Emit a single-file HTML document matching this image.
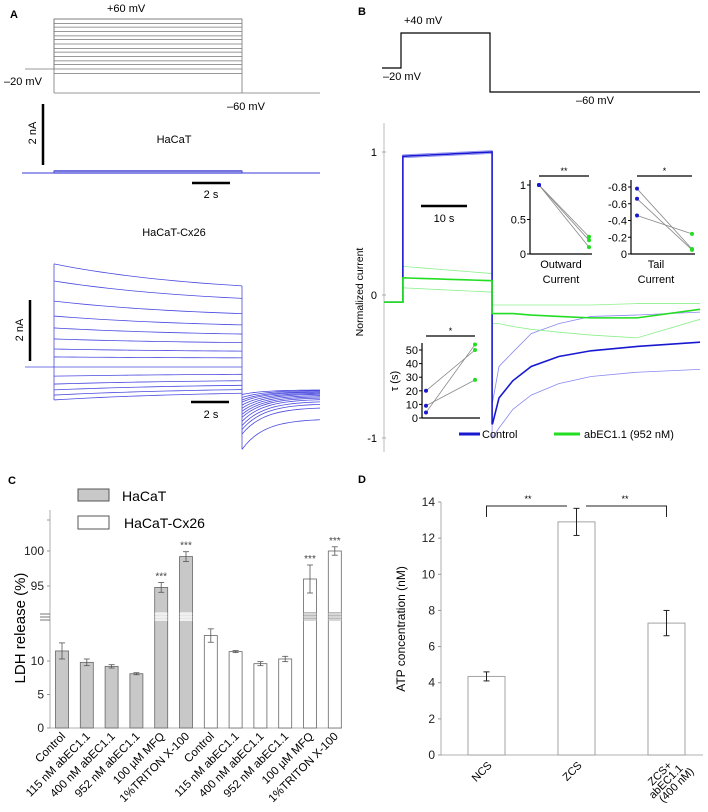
<!DOCTYPE html>
<html><head><meta charset="utf-8"><style>
html,body{margin:0;padding:0;background:#fff;}
svg{display:block;font-family:"Liberation Sans",Arial,sans-serif;}
</style></head><body>
<svg id="fig" width="708" height="812" viewBox="0 0 708 812">
<text x="10" y="18" font-size="11" font-weight="bold">A</text>
<text x="358" y="15" font-size="11" font-weight="bold">B</text>
<text x="8" y="484" font-size="11" font-weight="bold">C</text>
<text x="358" y="483" font-size="11" font-weight="bold">D</text>
<g id="pa"></g>
<g id="pb"></g>
<g id="pc"></g>
<g id="pd"></g>
</svg>
<script>
const NS="http://www.w3.org/2000/svg";
function mk(parent,tag,attrs,txt){const e=document.createElementNS(NS,tag);for(const k in attrs)e.setAttribute(k,attrs[k]);if(txt!==undefined)e.textContent=txt;parent.appendChild(e);return e;}

/* ---------- Panel A data ---------- */
const aStepStart=[3.38,2.82,2.16,1.67,1.28,0.92,0.59,0.33,0,-0.3,-0.56,-0.75,-0.92,-1.08];
const aStepEnd=[2.66,2.25,1.75,1.38,1.08,0.8,0.52,0.3,0,-0.24,-0.45,-0.6,-0.74,-0.86];
const aTailStart=[-0.9,-1.0,-1.08,-1.15,-1.25,-1.35,-1.45,-1.55,-1.65,-1.78,-1.92,-2.05,-2.2,-2.7];
const aTailEnd=[-0.75,-0.77,-0.8,-0.82,-0.85,-0.88,-0.92,-0.96,-1.0,-1.05,-1.12,-1.2,-1.32,-1.7];
const aVoltSteps=[60,53,47,40,33,27,20,13,7,0,-7,-13,-20,-27];

/* ---------- Panel B data ---------- */
const bTimes=[23.6,25,28,32,38,45,55,68.7];
const ctrlTail=[-0.9,-0.72,-0.6,-0.5,-0.43,-0.39,-0.36,-0.33];
const ctrlUpTail=[-0.75,-0.5,-0.4,-0.27,-0.2,-0.15,-0.14,-0.12];
const ctrlLoTail=[-1.0,-0.93,-0.8,-0.7,-0.62,-0.57,-0.54,-0.52];
const grnTail=[-0.13,-0.13,-0.13,-0.14,-0.15,-0.16,-0.16,-0.1];
const grnUpTail=[-0.07,-0.07,-0.07,-0.07,-0.07,-0.07,-0.06,-0.06];
const grnLoTail=[-0.2,-0.2,-0.22,-0.24,-0.26,-0.28,-0.3,-0.17];
const ctrlStep=[0.97,1.0]; const ctrlUpStep=[0.98,1.01]; const ctrlLoStep=[0.96,0.99];
const grnStep=[0.12,0.1]; const grnUpStep=[0.2,0.15]; const grnLoStep=[0.05,0.02];
const outCtrl=[1,1,1]; const outAb=[0.25,0.2,0.1];
const tailCtrl=[-0.78,-0.66,-0.46]; const tailAb=[-0.06,-0.05,-0.24];
const tauCtrl=[20,9,4]; const tauAb=[50,28,54];

/* ---------- Panel C data ---------- */
const cCats=["Control","115 nM abEC1.1","400 nM abEC1.1","952 nM abEC1.1","100 µM MFQ","1%TRITON X-100","Control","115 nM abEC1.1","400 nM abEC1.1","952 nM abEC1.1","100 µM MFQ","1%TRITON X-100"];
const cVals=[11.5,9.8,9.2,8.1,94.8,99.2,13.8,11.4,9.6,10.3,96,100];
const cErr=[1.2,0.5,0.25,0.15,0.7,0.7,1.0,0.15,0.3,0.4,2.0,0.6];
const cGroup=[0,0,0,0,0,0,1,1,1,1,1,1];
const cStars=["","","","","***","***","","","","","***","***"];
const cLowTicks=[0,5,10]; const cHighTicks=[95,100];

/* ---------- Panel D data ---------- */
const dCats=["NCS","ZCS","ZCS+|abEC1.1|(400 nM)"];
const dVals=[4.35,12.9,7.3];
const dErr=[0.25,0.75,0.7];
const dTicks=[0,2,4,6,8,10,12,14];

/* ===== Panel A ===== */
(function(){
 const g=document.getElementById('pa');
 const vy=v=>69-(v+20)*(50/80);
 aVoltSteps.forEach(v=>{const l=mk(g,'line',{x1:54,x2:242,y1:vy(v),y2:vy(v),stroke:'#777','stroke-width':0.8});
 
 });
 mk(g,'polyline',{points:`25,69 54,69 54,${vy(60)} 242,${vy(60)} 242,93 320,93`,fill:'none',stroke:'#777','stroke-width':0.8});
 mk(g,'line',{x1:54,x2:54,y1:vy(60),y2:93,stroke:'#777','stroke-width':0.8});
 mk(g,'line',{x1:54,x2:242,y1:93,y2:93,stroke:'#777','stroke-width':0.8});
 mk(g,'text',{x:107,y:12,'font-size':11},'+60 mV');
 mk(g,'text',{x:4,y:85,'font-size':11},'–20 mV');
 mk(g,'text',{x:227,y:110,'font-size':11},'–60 mV');
 mk(g,'line',{x1:43,x2:43,y1:104,y2:165,stroke:'#000','stroke-width':2.5});
 mk(g,'text',{x:0,y:0,'font-size':11,transform:'translate(36,133) rotate(-90)','text-anchor':'middle'},'2 nA');
 mk(g,'text',{x:174,y:143,'font-size':11,'text-anchor':'middle'},'HaCaT');
 mk(g,'polyline',{points:'22,173 54,173 54,171 242,171 242,173 320,173',fill:'none',stroke:'#3a3ad8','stroke-width':1});
 mk(g,'rect',{x:54,y:170,width:188,height:4,fill:'#6c6ce0',opacity:0.8});
 mk(g,'line',{x1:192,x2:230,y1:183,y2:183,stroke:'#000','stroke-width':2.5});
 mk(g,'text',{x:211,y:198,'font-size':11,'text-anchor':'middle'},'2 s');
 mk(g,'text',{x:174,y:236,'font-size':11,'text-anchor':'middle'},'HaCaT-Cx26');
 mk(g,'line',{x1:30,x2:30,y1:300,y2:361,stroke:'#000','stroke-width':2.5});
 mk(g,'text',{x:0,y:0,'font-size':11,transform:'translate(23,330) rotate(-90)','text-anchor':'middle'},'2 nA');
 mk(g,'line',{x1:191,x2:229,y1:402,y2:402,stroke:'#000','stroke-width':2.5});
 mk(g,'text',{x:211,y:418,'font-size':11,'text-anchor':'middle'},'2 s');
 const cy=i=>367-i*30.5;
 mk(g,'line',{x1:25,x2:54,y1:367,y2:367,stroke:'#4a4ae0','stroke-width':0.8});
 mk(g,'line',{x1:54,x2:54,y1:cy(aStepStart[0]),y2:cy(aStepStart[13]),stroke:'#4a4ae0','stroke-width':0.8});
 mk(g,'line',{x1:242,x2:242,y1:cy(aStepEnd[0]),y2:cy(aTailStart[13]),stroke:'#4a4ae0','stroke-width':0.8});
 const norm=1-Math.exp(-1.2);
 for(let i=0;i<aStepStart.length;i++){
  let p=[];
  for(let k=0;k<=20;k++){const t=k/20;const f=(1-Math.exp(-1.2*t))/norm;const v=aStepStart[i]+(aStepEnd[i]-aStepStart[i])*f;p.push(`${54+t*188},${cy(v)}`);}
  const l=mk(g,'polyline',{points:p.join(' '),fill:'none',stroke:'#4a4ae0','stroke-width':0.8});
  
  
  let q=[];
  for(let k=0;k<=20;k++){const t=k/20;const v=aTailEnd[i]+(aTailStart[i]-aTailEnd[i])*Math.exp(-t*3.5);q.push(`${242+t*78},${cy(v)}`);}
  const l2=mk(g,'polyline',{points:q.join(' '),fill:'none',stroke:'#4a4ae0','stroke-width':0.8});
  
  
 }
})();

/* ===== Panel B ===== */
(function(){
 const g=document.getElementById('pb');
 mk(g,'polyline',{points:'382,68 401,68 401,33 490,33 490,92 700,92',fill:'none',stroke:'#000','stroke-width':1.2});
 mk(g,'text',{x:404,y:24,'font-size':11},'+40 mV');
 mk(g,'text',{x:383,y:80,'font-size':11},'–20 mV');
 mk(g,'text',{x:576,y:104,'font-size':11},'–60 mV');
 const X=t=>384+t*4.6, Y=v=>295-v*143;
 mk(g,'line',{x1:384,x2:384,y1:123,y2:452,stroke:'#aaa','stroke-width':0.8});
 [[1,'1'],[0,'0'],[-1,'-1']].forEach(([v,s])=>{mk(g,'line',{x1:382,x2:386,y1:Y(v),y2:Y(v),stroke:'#aaa'});mk(g,'text',{x:377,y:Y(v)+4,'font-size':11,'text-anchor':'end'},s);});
 mk(g,'text',{x:0,y:0,'font-size':10.5,transform:'translate(363,292) rotate(-90)','text-anchor':'middle'},'Normalized current');
 function trace(stepArr,tailArr,color,w,name){
  let p=[`${X(0)},${Y(-0.05)}`,`${X(4.1)},${Y(-0.05)}`,`${X(4.1)},${Y(stepArr[0])}`];
  for(let k=1;k<=10;k++){const t=4.1+k*(19.4/10);p.push(`${X(t)},${Y(stepArr[0]+(stepArr[1]-stepArr[0])*k/10)}`);}
  p.push(`${X(23.5)},${Y(tailArr[0])}`);
  bTimes.forEach((t,i)=>p.push(`${X(t)},${Y(tailArr[i])}`));
  const l=mk(g,'polyline',{points:p.join(' '),fill:'none',stroke:color,'stroke-width':w});
  
  
 }
 trace(ctrlUpStep,ctrlUpTail,'#8a8af0',0.8,'control-upper-sem');
 trace(ctrlLoStep,ctrlLoTail,'#8a8af0',0.8,'control-lower-sem');
 trace(grnUpStep,grnUpTail,'#8cf08c',0.8,'abec-upper-sem');
 trace(grnLoStep,grnLoTail,'#8cf08c',0.8,'abec-lower-sem');
 trace(ctrlStep,ctrlTail,'#1818d0',1.6,'control-mean-trace');
 trace(grnStep,grnTail,'#22dd22',1.6,'abec-mean-trace');
 mk(g,'line',{x1:421,x2:467,y1:206,y2:206,stroke:'#000','stroke-width':2.5});
 mk(g,'text',{x:444,y:222,'font-size':11,'text-anchor':'middle'},'10 s');
 function inset(ax,top,bot,right,x1,x2,yf,ticks,c,a,sig,sigY,name){
  const ig=mk(g,'g',{});
  
  
  mk(ig,'line',{x1:ax,x2:ax,y1:top,y2:bot,stroke:'#000','stroke-width':1.2});
  mk(ig,'line',{x1:ax,x2:right,y1:bot,y2:bot,stroke:'#000','stroke-width':1.2});
  ticks.forEach(([v,s])=>{mk(ig,'line',{x1:ax-3,x2:ax,y1:yf(v),y2:yf(v),stroke:'#000'});mk(ig,'text',{x:ax-4,y:yf(v)+4,'font-size':11,'text-anchor':'end'},s);});
  c.forEach((v,i)=>{mk(ig,'line',{x1:x1,x2:x2,y1:yf(v),y2:yf(a[i]),stroke:'#888','stroke-width':0.8});});
  c.forEach(v=>mk(ig,'circle',{cx:x1,cy:yf(v),r:2,fill:'#1818d0'}));
  a.forEach(v=>mk(ig,'circle',{cx:x2,cy:yf(v),r:2,fill:'#22dd22'}));
  mk(ig,'line',{x1:x1,x2:x2,y1:sigY,y2:sigY,stroke:'#000','stroke-width':1.2});
  mk(ig,'text',{x:(x1+x2)/2,y:sigY-2,'font-size':9,'text-anchor':'middle'},sig);
 }
 inset(530,180,254,592,539,589,v=>254-v*69,[[1,'1'],[0.5,'0.5'],[0,'0']],outCtrl,outAb,'**',176,'outward-current-inset');
 mk(g,'text',{x:561,y:268,'font-size':11,'text-anchor':'middle'},'Outward');
 mk(g,'text',{x:561,y:283,'font-size':11,'text-anchor':'middle'},'Current');
 inset(631,180,254,695,637,692,v=>254+v*83.75,[[-0.8,'-0.8'],[-0.6,'-0.6'],[-0.4,'-0.4'],[-0.2,'-0.2'],[0,'0']],tailCtrl,tailAb,'*',176,'tail-current-inset');
 mk(g,'text',{x:656,y:268,'font-size':11,'text-anchor':'middle'},'Tail');
 mk(g,'text',{x:656,y:283,'font-size':11,'text-anchor':'middle'},'Current');
 inset(422,343,418,480,426,475,v=>418-v*1.36,[[0,'0'],[10,'10'],[20,'20'],[30,'30'],[40,'40'],[50,'50']],tauCtrl,tauAb,'*',336,'tau-inset');
 mk(g,'text',{x:0,y:0,'font-size':11,transform:'translate(398,381) rotate(-90)','text-anchor':'middle'},'τ (s)');
 mk(g,'line',{x1:459,x2:480,y1:434,y2:434,stroke:'#1818d0','stroke-width':3});
 mk(g,'text',{x:482,y:438,'font-size':11},'Control');
 mk(g,'line',{x1:554,x2:580,y1:434,y2:434,stroke:'#22dd22','stroke-width':3});
 mk(g,'text',{x:584,y:438,'font-size':11},'abEC1.1 (952 nM)');
})();

/* ===== Panel C ===== */
(function(){
 const g=document.getElementById('pc');
 const Y=v=>v<50?728-v*6.7:586-(v-95)*7;
 const xs=i=>62+i*24.8;
 mk(g,'line',{x1:50,x2:50,y1:510,y2:728,stroke:'#999','stroke-width':0.8});
 mk(g,'line',{x1:50,x2:342,y1:728,y2:728,stroke:'#999','stroke-width':0.8});
 mk(g,'line',{x1:47,x2:50,y1:520,y2:520,stroke:'#999'});
 cLowTicks.concat(cHighTicks).forEach(v=>{mk(g,'line',{x1:47,x2:50,y1:Y(v),y2:Y(v),stroke:'#999'});mk(g,'text',{x:44,y:Y(v)+4,'font-size':12,'text-anchor':'end',fill:'#222'},String(v));});
 [614,617,620].forEach(y=>mk(g,'line',{x1:40,x2:50,y1:y,y2:y,stroke:'#555','stroke-width':0.8}));
 mk(g,'text',{x:0,y:0,'font-size':15,transform:'translate(25,628) rotate(-90)','text-anchor':'middle'},'LDH release (%)');
 cVals.forEach((v,i)=>{
  const x=xs(i)-6.5,top=Y(v);
  const r=mk(g,'rect',{x:x,y:top,width:13,height:728-top,fill:cGroup[i]?'#fff':'#c8c8c8',stroke:'#666','stroke-width':0.8});
  
  
  if(v>50){mk(g,'rect',{x:x+0.5,y:612,width:12,height:9,fill:cGroup[i]?'#bbb':'#e6e6e6'});[614,617,620].forEach(y=>mk(g,'line',{x1:x,x2:x+13,y1:y,y2:y,stroke:'#fff','stroke-width':0.8}));}
  const e1=Y(v+cErr[i]),e2=Y(v-cErr[i]);
  mk(g,'line',{x1:xs(i),x2:xs(i),y1:e1,y2:e2,stroke:'#555','stroke-width':0.8});
  mk(g,'line',{x1:xs(i)-3,x2:xs(i)+3,y1:e1,y2:e1,stroke:'#555','stroke-width':0.8});
  mk(g,'line',{x1:xs(i)-3,x2:xs(i)+3,y1:e2,y2:e2,stroke:'#555','stroke-width':0.8});
  if(cStars[i])mk(g,'text',{x:xs(i),y:e1-3,'font-size':10,'text-anchor':'middle',fill:'#444'},cStars[i]);
  mk(g,'text',{x:0,y:0,'font-size':11.5,'text-anchor':'end',transform:`translate(${xs(i)+4},${737}) rotate(-45)`},cCats[i]);
 });
 const l1=mk(g,'rect',{x:78,y:489,width:31,height:12,fill:'#c8c8c8',stroke:'#555'});
 
 
 mk(g,'text',{x:122,y:501,'font-size':14},'HaCaT');
 const l2=mk(g,'rect',{x:78,y:516,width:31,height:13,fill:'#fff',stroke:'#555'});
 
 
 mk(g,'text',{x:124,y:528,'font-size':14},'HaCaT-Cx26');
})();

/* ===== Panel D ===== */
(function(){
 const g=document.getElementById('pd');
 const Y=v=>755-v*18.07;
 const xs=[486.5,576.5,666.5];
 mk(g,'line',{x1:441,x2:441,y1:Y(14),y2:755,stroke:'#999','stroke-width':0.8});
 mk(g,'line',{x1:441,x2:703,y1:755,y2:755,stroke:'#999','stroke-width':0.8});
 dTicks.forEach(v=>{mk(g,'line',{x1:438,x2:441,y1:Y(v),y2:Y(v),stroke:'#999'});mk(g,'text',{x:435,y:Y(v)+4,'font-size':12,'text-anchor':'end',fill:'#222'},String(v));});
 mk(g,'text',{x:0,y:0,'font-size':12,transform:'translate(405,629) rotate(-90)','text-anchor':'middle'},'ATP concentration (nM)');
 dVals.forEach((v,i)=>{
  const r=mk(g,'rect',{x:xs[i]-18.5,y:Y(v),width:37,height:755-Y(v),fill:'#fff',stroke:'#999','stroke-width':0.9});
  
  
  const e1=Y(v+dErr[i]),e2=Y(v-dErr[i]);
  mk(g,'line',{x1:xs[i],x2:xs[i],y1:e1,y2:e2,stroke:'#222','stroke-width':1});
  mk(g,'line',{x1:xs[i]-3,x2:xs[i]+3,y1:e1,y2:e1,stroke:'#222'});
  mk(g,'line',{x1:xs[i]-3,x2:xs[i]+3,y1:e2,y2:e2,stroke:'#222'});
  const lines=dCats[i].split('|');
  lines.forEach((s,k)=>mk(g,'text',{x:0,y:0,'font-size':11,'text-anchor':'end',transform:`translate(${xs[i]+6+k*11},${766+k*3}) rotate(-45)`},s));
 });
 mk(g,'polyline',{points:`486.5,517 486.5,506 567,506`,fill:'none',stroke:'#222','stroke-width':1});
 mk(g,'polyline',{points:`586,506 666.5,506 666.5,517`,fill:'none',stroke:'#222','stroke-width':1});
 mk(g,'text',{x:528,y:502,'font-size':9,'text-anchor':'middle'},'**');
 mk(g,'text',{x:625,y:502,'font-size':9,'text-anchor':'middle'},'**');
})();
</script>
</body></html>
